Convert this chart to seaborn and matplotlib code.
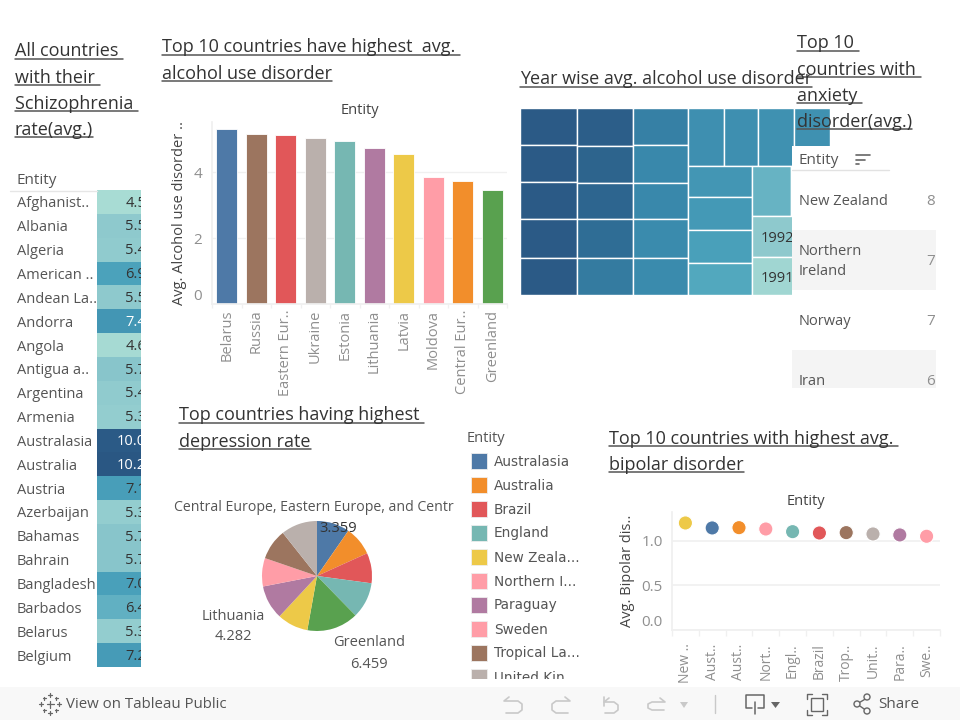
import matplotlib
matplotlib.use("Agg")
import matplotlib.pyplot as plt
from matplotlib.lines import Line2D
from matplotlib.patches import Rectangle, Circle, Polygon
from matplotlib.transforms import Bbox, TransformedBbox
import pandas as pd
import seaborn as sns

TEXT_FONT = "Open Sans"

# schizophrenia table
schizo_entities = ["Afghanist..", "Albania", "Algeria", "American ..", "Andean La..", "Andorra", "Angola",
                   "Antigua a..", "Argentina", "Armenia", "Australasia", "Australia", "Austria", "Azerbaijan",
                   "Bahamas", "Bahrain", "Bangladesh", "Barbados", "Belarus", "Belgium"]
schizo_rates = [4.5, 5.5, 5.4, 6.9, 5.5, 7.4, 4.6, 5.7, 5.4, 5.3, 10.0, 10.2, 7.1, 5.3, 5.7, 5.7, 7.0, 6.4, 5.3, 7.2]

# alcohol bars
alcohol_entities = ["Belarus", "Russia", "Eastern Eur..", "Ukraine", "Estonia", "Lithuania", "Latvia",
                    "Moldova", "Central Eur..", "Greenland"]
alcohol_values = [5.32, 5.17, 5.14, 5.05, 4.95, 4.74, 4.56, 3.85, 3.74, 3.46]
alcohol_colors = ["#4e79a7", "#9c755f", "#e15759", "#bab0ac", "#76b7b2", "#b07aa1", "#edc948", "#ff9da7",
                  "#f28e2b", "#59a14f"]

# year treemap: sizes and shades per block
tree_col1 = [2.075, 2.155, 2.098, 2.211, 2.081]
tree_col2 = [2.111, 2.072, 2.072, 2.184, 2.055]
tree_col3 = [2.007, 2.079, 2.024, 2.133, 2.007]
tree_top = [2.074, 2.016, 2.074, 2.074]
tree_col4 = [2.025, 2.070, 2.116, 2.090]
tree_row5 = [1.96, 1.96]
tree_low5 = [3.16, 2.95]
tree_low_years = ["1992", "1991"]
shade_col1 = [10.0, 10.0, 10.0, 10.0, 10.0]
shade_col2 = [9.8, 9.5, 9.4, 9.0, 8.5]
shade_col3 = [8.3, 8.0, 8.0, 7.9, 7.9]
shade_top = [7.7, 7.7, 7.6, 7.6]
shade_col4 = [7.4, 7.3, 7.0, 6.7]
shade_row5 = [6.3, 6.3]
shade_low5 = [5.5, 4.8]

# anxiety table
anxiety_entities = ["New Zealand", "Northern\nIreland", "Norway", "Iran"]
anxiety_values = ["8", "7", "7", "6"]

# depression pie
pie_values = [4.12, 3.67, 3.80, 4.52, 6.459, 3.89, 4.282, 3.56, 3.87, 4.56]
pie_colors = ["#4e79a7", "#f28e2b", "#e15759", "#76b7b2", "#59a14f", "#edc948", "#b07aa1", "#ff9da7",
              "#9c755f", "#bab0ac"]
legend_names = ["Australasia", "Australia", "Brazil", "England", "New Zeala...", "Northern I...", "Paraguay",
                "Sweden", "Tropical La...", "United Kin..."]
legend_colors = ["#4e79a7", "#f28e2b", "#e15759", "#76b7b2", "#edc948", "#ff9da7", "#b07aa1", "#ff9da7",
                 "#9c755f", "#bab0ac"]

# bipolar dots
bipolar_entities = ["New ..", "Aust..", "Aust..", "Nort..", "Engl..", "Brazil", "Trop..", "Unit..", "Para..", "Swe.."]
bipolar_values = [1.203, 1.147, 1.15, 1.135, 1.105, 1.09, 1.094, 1.079, 1.068, 1.053]
bipolar_colors = ["#edc948", "#4e79a7", "#f28e2b", "#ff9da7", "#76b7b2", "#e15759", "#9c755f", "#bab0ac",
                  "#b07aa1", "#ff9da7"]

sns.set_theme(style="white")
plt.rcParams["font.family"] = [TEXT_FONT, "DejaVu Sans"]

fig = plt.figure(figsize=(9.6, 7.2), dpi=100)
W, H = 960, 720
GRAY = "#8f8f8f"
DARK = "#555555"
GRID = "#f0f0f0"
BODY = 10.5

teal_blue = sns.blend_palette(["#a8dcd4", "#8ac6cc", "#4da5bd", "#3a8aad", "#2f6c94", "#2a5783"], as_cmap=True)
RATE_MIN, RATE_MAX = 4.5, 10.2


def shade(v):
    return teal_blue((v - RATE_MIN) / (RATE_MAX - RATE_MIN))


def px_axes(x0, y0, x1, y1, zorder=1):
    ax = fig.add_axes([x0 / W, 1 - y1 / H, (x1 - x0) / W, (y1 - y0) / H], zorder=zorder)
    ax.patch.set_alpha(0)
    return ax


def clean(ax):
    for s in ax.spines.values():
        s.set_visible(False)


# overlay in pixel coordinates for titles, legend and toolbar
top = px_axes(0, 0, W, H, zorder=10)
top.set_xlim(0, W)
top.set_ylim(H, 0)
top.axis("off")

under = px_axes(0, 0, W, H, zorder=0)
under.set_xlim(0, W)
under.set_ylim(H, 0)
under.axis("off")


def label(x, y, s, size=BODY, color=DARK, ha="center", **kw):
    return top.text(x, y + 1.5, s, fontsize=size, color=color, ha=ha, va="center", **kw)


def clip_text(t, x0, y0, x1, y1):
    t.set_clip_box(TransformedBbox(Bbox([[x0, y0], [x1, y1]]), top.transData))
    t.set_clip_on(True)


def title(x, y, lines, step=26.3):
    rend = fig.canvas.get_renderer()
    for i, line in enumerate(lines):
        yy = y + i * step
        t = label(x, yy, line, size=13, color="#333333", ha="left")
        box = t.get_window_extent(rend)
        top.add_line(Line2D([x, x + box.width], [yy + 8.5, yy + 8.5], color="#555555", lw=1.1))


# heat table
ax = px_axes(97, 190, 141, 667, zorder=2)
df_schizo = pd.DataFrame({"rate": schizo_rates}, index=schizo_entities)
sns.heatmap(df_schizo, ax=ax, cmap=teal_blue, vmin=RATE_MIN, vmax=RATE_MAX, cbar=False, xticklabels=False,
            yticklabels=True)
ax.set_ylabel("")
ax.tick_params(axis="y", left=False, length=0, pad=57.6, labelsize=BODY, labelcolor=DARK, rotation=0)
for lab in ax.get_yticklabels():
    lab.set_ha("left")
    lab.set_va("center_baseline")
for i, v in enumerate(schizo_rates):
    ax.text(1.12, i + 0.55, f"{v:.1f}", ha="right", va="center", fontsize=BODY, clip_on=True,
            color="white" if v >= 7.3 else "#333333")
label(17, 179, "Entity", size=11, ha="left")
top.add_line(Line2D([10, 97], [190.5, 190.5], color="#e6e6e6", lw=1))

# alcohol bars
ax = px_axes(212, 122, 507, 304, zorder=2)
df_alcohol = pd.DataFrame({"entity": alcohol_entities, "value": alcohol_values})
sns.barplot(data=df_alcohol, x="entity", y="value", hue="entity", palette=alcohol_colors, legend=False, ax=ax,
            width=0.72, saturation=1, edgecolor="#ffffff", linewidth=0.6)
ax.set_ylim(0, 5.53)
ax.set_xlim(-0.5, 9.5)
clean(ax)
ax.set_yticks([0, 2, 4])
ax.grid(axis="y", color=GRID, lw=1)
ax.set_axisbelow(True)
ax.set_xlabel("")
ax.set_ylabel("Avg. Alcohol use disorder ..", fontsize=BODY, color="#444444", labelpad=4.5)
ax.tick_params(axis="y", left=False, length=0, labelsize=11, labelcolor=GRAY, pad=7)
ax.tick_params(axis="x", bottom=False, length=0, labelsize=BODY, labelcolor=GRAY, pad=4, rotation=90)
ax.get_yticklabels()[0].set_va("bottom")
ax.spines["left"].set_visible(True)
ax.spines["left"].set_color(GRID)
ax.spines["bottom"].set_visible(True)
ax.spines["bottom"].set_color(GRID)
ax.set_xticks([i - 0.5 for i in range(11)], minor=True)
ax.tick_params(axis="x", which="minor", bottom=True, length=3, color=GRID, width=1)
label(360, 109, "Entity", color="#444444")

# treemap, laid out from the sizes
tree_ax = px_axes(520, 108, 830, 295, zorder=1)
tree_ax.axis("off")
tree_rows = [("v", tree_col1, shade_col1), ("v", tree_col2, shade_col2), ("v", tree_col3, shade_col3)]
tree_total = sum(map(sum, [tree_col1, tree_col2, tree_col3, tree_top, tree_col4, tree_row5, tree_low5]))
tree_ax.set_xlim(0, tree_total)
tree_ax.set_ylim(1, 0)


def cell(x, y, w, h, v):
    tree_ax.bar(x, h, width=w, bottom=y, align="edge", color=shade(v), edgecolor="white", linewidth=1.0)


xpos = 0
for _, sizes, shades in tree_rows:
    w = sum(sizes)
    ypos = 0
    for s, c in zip(sizes, shades):
        cell(xpos, ypos, w, s / w, c)
        ypos += s / w
    xpos += w

block_w = tree_total - xpos
top_h = sum(tree_top) / block_w
xx = xpos
for s, c in zip(tree_top, shade_top):
    cell(xx, 0, s / top_h, top_h, c)
    xx += s / top_h

low_h = 1 - top_h
w4 = sum(tree_col4) / low_h
ypos = top_h
for s, c in zip(tree_col4, shade_col4):
    cell(xpos, ypos, w4, s / w4, c)
    ypos += s / w4

x5 = xpos + w4
w5 = tree_total - x5
row_h = sum(tree_row5) / w5
xx = x5
for s, c in zip(tree_row5, shade_row5):
    cell(xx, top_h, s / row_h, row_h, c)
    xx += s / row_h
ypos = top_h + row_h
for s, c, yr in zip(tree_low5, shade_low5, tree_low_years):
    cell(x5, ypos, w5, s / w5, c)
    tree_ax.text(x5 + w5 * 0.115, ypos + s / w5 / 2 + 0.012, yr, fontsize=BODY, color="#333333", ha="left", va="center")
    ypos += s / w5

# anxiety table
ax = px_axes(792, 146, 936, 388, zorder=3)
ax.set_xlim(0, 144)
ax.set_ylim(242, 0)
ax.axis("off")
ax.patch.set_alpha(1)
ax.patch.set_facecolor("white")
ax.add_patch(Rectangle((0, 0), 144, 242, color="white", lw=0))
row_tops = [24, 84, 144, 204]
for i, (name, val) in enumerate(zip(anxiety_entities, anxiety_values)):
    if i % 2 == 1:
        ax.add_patch(Rectangle((0, row_tops[i]), 144, 60, color="#f4f4f4", lw=0))
    yy = row_tops[i] + 31.5
    ax.text(7, yy, name, fontsize=BODY, color=DARK, ha="left", va="center", linespacing=1.45, clip_on=True)
    ax.text(143, yy, val, fontsize=11, color=GRAY, ha="right", va="center", clip_on=True)
ax.text(7, 15, "Entity", fontsize=11, color=DARK, ha="left", va="center")
ax.add_line(Line2D([0, 97], [23.5, 23.5], color="#e2e2e2", lw=1))
for k, ln in enumerate([14, 9, 3]):
    ax.add_line(Line2D([64, 64 + ln], [9 + k * 4.5, 9 + k * 4.5], color="#666666", lw=1.2))

# depression pie
ax = px_axes(262, 521, 372, 631, zorder=2)
ax.pie(pie_values, colors=pie_colors, startangle=90, counterclock=False, radius=1,
       wedgeprops={"linewidth": 0})
ax.set_xlim(-1, 1)
ax.set_ylim(-1, 1)
t = label(174, 506, "Central Europe, Eastern Europe, and Centr", size=10.2, ha="left")
clip_text(t, 170, 480, 458, 520)
label(338, 527, "3.359", color="#333333")
label(233, 615, "Lithuania")
label(233, 635, "4.282")
label(369, 641, "Greenland")
label(369, 663, "6.459")

# pie legend
label(467, 437, "Entity", ha="left")
for i, (name, col) in enumerate(zip(legend_names, legend_colors)):
    yy = 461 + i * 24
    sw = Rectangle((470.7, yy - 8), 16.6, 16, facecolor=col, edgecolor="#eeeeee", lw=0.6)
    top.add_patch(sw)
    sw.set_clip_box(TransformedBbox(Bbox([[460, 440], [590, 679]]), top.transData))
    t = top.text(494, yy + 0.5, name, fontsize=9.8, color=DARK, family="DejaVu Sans", ha="left", va="center")
    clip_text(t, 460, 440, 590, 679)

# bipolar dots
ax = px_axes(672, 512, 940, 629.5, zorder=2)
df_bipolar = pd.DataFrame({"pos": range(10), "value": bipolar_values, "color": [str(i) for i in range(10)]})
sns.scatterplot(data=df_bipolar, x="pos", y="value", hue="color", palette=bipolar_colors, legend=False, ax=ax,
                s=105, edgecolor="#ffffff", linewidth=0.8, clip_on=False)
ax.set_xlim(-0.5, 9.5)
ax.set_ylim(0, 1.327)
clean(ax)
ax.set_yticks([0, 0.5, 1.0])
ax.set_yticklabels(["0.0", "0.5", "1.0"])
ax.set_xticks(range(10))
ax.set_xticklabels(bipolar_entities)
ax.grid(axis="y", color=GRID, lw=1.2)
ax.set_axisbelow(True)
ax.set_xlabel("")
ax.set_ylabel("Avg. Bipolar dis..", fontsize=BODY, color="#444444", labelpad=5)
ax.tick_params(axis="y", left=False, length=0, labelsize=11, labelcolor=GRAY, pad=6.5)
ax.tick_params(axis="x", bottom=False, length=0, labelsize=10, labelcolor=GRAY, pad=10, rotation=90)
ax.get_yticklabels()[0].set_va("bottom")
ax.spines["left"].set_visible(True)
ax.spines["left"].set_color(GRID)
ax.spines["bottom"].set_visible(True)
ax.spines["bottom"].set_color(GRID)
ax.set_xticks([i - 0.5 for i in range(11)], minor=True)
ax.tick_params(axis="x", which="minor", bottom=True, length=4, color=GRID, width=1)
label(806, 500, "Entity", color="#444444")

# titles
title(15, 50, ["All countries ", "with their ", "Schizophrenia ", "rate(avg.)"])
title(162, 46, ["Top 10 countries have highest  avg. ", "alcohol use disorder"])
title(520, 78, ["Year wise avg. alcohol use disorder"])
title(797, 42, ["Top 10 ", "countries with ", "anxiety ", "disorder(avg.)"])
title(179, 414, ["Top countries having highest ", "depression rate"])
title(609, 437, ["Top 10 countries with highest avg. ", "bipolar disorder"])

# toolbar
under.add_patch(Rectangle((0, 687), W, 33, color="#f8f8f8", lw=0))
ICON = "#666666"
FAINT = "#c9c9c9"
for (cx, cy, ln) in [(50, 704, 3.5), (50, 695, 2), (50, 713, 2), (41, 704, 2), (59, 704, 2),
                     (44, 698, 1.5), (56, 698, 1.5), (44, 710, 1.5), (56, 710, 1.5)]:
    top.add_line(Line2D([cx - ln, cx + ln], [cy, cy], color=ICON, lw=0.9))
    top.add_line(Line2D([cx, cx], [cy - ln, cy + ln], color=ICON, lw=0.9))
label(66, 703, "View on Tableau Public", size=10.8, ha="left")
top.plot([509, 504, 518, 522, 522, 518, 506], [697, 701, 701, 704, 710, 713, 713], color=FAINT, lw=1.2)
top.plot([565, 570, 556, 552, 552, 556, 568], [697, 701, 701, 704, 710, 713, 713], color=FAINT, lw=1.2)
top.plot([604, 604], [697, 706], color=FAINT, lw=1.2)
top.plot([609, 604, 614, 618, 618, 614, 605], [698, 702, 702, 705, 710, 713, 713], color=FAINT, lw=1.2)
top.plot([660, 665, 652, 648, 648, 652, 664], [698, 702, 702, 704, 708, 710, 710], color=FAINT, lw=1.2)
top.add_patch(Polygon([[680, 702], [688, 702], [684, 708]], color=FAINT, lw=0))
top.plot([715, 715], [695, 713], color=FAINT, lw=1)
top.plot([752, 746, 746, 764, 764, 758], [708, 708, 695, 695, 708, 708], color=ICON, lw=1.1)
top.plot([755, 755], [702, 714], color=ICON, lw=1.1)
top.add_patch(Polygon([[771, 702], [780, 702], [775.5, 708]], color=ICON, lw=0))
top.add_patch(Rectangle((811, 698), 12, 13, fill=False, edgecolor=ICON, lw=1))
for (a, b, c, d) in [(807, 694, 1, 1), (827, 694, -1, 1), (807, 715, 1, -1), (827, 715, -1, -1)]:
    top.plot([a + 5 * c, a, a], [b, b, b + 5 * d], color=ICON, lw=1)
top.plot([867, 857, 867], [698, 704, 711], color=ICON, lw=1)
for (cx, cy) in [(867, 697), (857, 704), (867, 711)]:
    top.add_patch(Circle((cx, cy), 3, facecolor="#f8f8f8", edgecolor=ICON, lw=1, zorder=5))
label(878, 703, "Share", size=11, ha="left")

fig.savefig("out.png", dpi=100)
